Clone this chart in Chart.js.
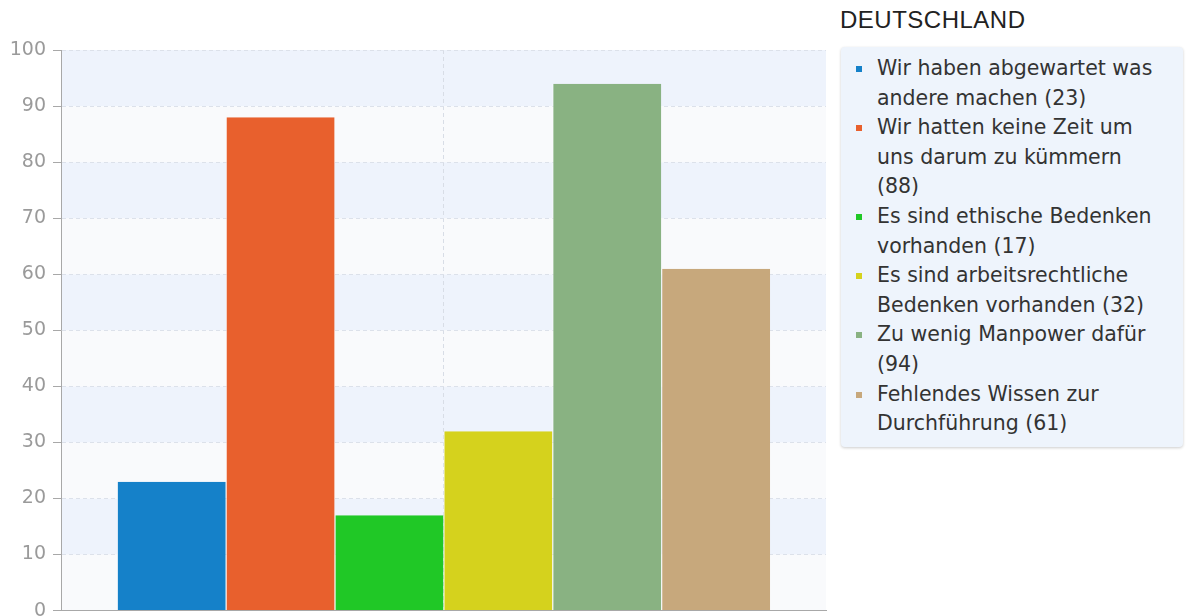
<!DOCTYPE html>
<html>
<head>
<meta charset="utf-8">
<script src="https://cdn.jsdelivr.net/npm/chart.js@4"></script>
<style>
  body { margin: 0; background: #fff; width: 1186px; height: 616px; overflow: hidden; position: relative; }
  #chartBox { position: absolute; left: 0; top: 0; width: 832px; height: 629px; }
  #title { position: absolute; left: 840px; top: 6px; font: 24px "Liberation Sans", Arial, sans-serif; color: #222; letter-spacing: 0.5px; }
  #legend { position: absolute; left: 841px; top: 47px; width: 342px; height: 400px; box-sizing: border-box;
    background: #eef4fc; border-radius: 4px; box-shadow: 0 1px 3px rgba(0,0,0,0.2);
    padding: 7px 14px 0 36px; font: 20.5px "DejaVu Sans", sans-serif; color: #333; line-height: 29.6px; }
  #legend ul { list-style: none; margin: 0; padding: 0; }
  #legend li { position: relative; }
  #legend li span { position: absolute; left: -21px; top: 12px; width: 6px; height: 6px; }
</style>
</head>
<body>
<div id="chartBox"><canvas id="chart"></canvas></div>
<div id="title">DEUTSCHLAND</div>
<div id="legend"><ul id="legendList"></ul></div>
<script>
'use strict';

// ------------------------------- Data ------------------------------//
const seriesNames = [
  'Wir haben abgewartet was andere machen',
  'Wir hatten keine Zeit um uns darum zu kümmern',
  'Es sind ethische Bedenken vorhanden',
  'Es sind arbeitsrechtliche Bedenken vorhanden',
  'Zu wenig Manpower dafür',
  'Fehlendes Wissen zur Durchführung'
];
const seriesValues = [23, 88, 17, 32, 94, 61];
const seriesColors = ['#1581c9', '#e8602d', '#20c826', '#d5d21d', '#89b282', '#c7a87c'];
const yTicks = [0, 10, 20, 30, 40, 50, 60, 70, 80, 90, 100];

// ------------------------------- Legend ------------------------------//
const legendList = document.getElementById('legendList');
for (let i = 0; i < seriesNames.length; i++) {
  let li = document.createElement('li');
  let box = document.createElement('span');
  box.style.background = seriesColors[i];
  li.appendChild(box);
  li.appendChild(document.createTextNode(`${seriesNames[i]} (${seriesValues[i]})`));
  legendList.appendChild(li);
}

// ------------------------------- Band plugin ------------------------------//
const bandPlugin = {
  id: 'bands',
  beforeDraw(chart) {
    const {ctx, chartArea, scales} = chart;
    const y = scales.y;
    ctx.save();
    for (let i = 0; i < yTicks.length - 1; i++) {
      const top = y.getPixelForValue(yTicks[i + 1]);
      const bottom = y.getPixelForValue(yTicks[i]);
      ctx.fillStyle = (i % 2 === 1) ? '#eef3fc' : '#f9fafc';
      ctx.fillRect(chartArea.left, top, chartArea.right - chartArea.left, bottom - top);
    }
    ctx.restore();
  }
};

// ------------------------------- Chart ------------------------------//
const datasets = seriesNames.map((name, i) => ({
  label: name,
  data: [seriesValues[i]],
  backgroundColor: seriesColors[i],
  borderColor: 'rgba(255,255,255,0.75)',
  borderWidth: {left: 1, right: 0, top: 0, bottom: 0},
  borderSkipped: false
}));

new Chart(document.getElementById('chart'), {
  type: 'bar',
  data: { labels: [''], datasets: datasets },
  plugins: [bandPlugin],
  options: {
    responsive: true,
    maintainAspectRatio: false,
    animation: false,
    layout: { padding: { top: 50, right: 6, bottom: 0, left: 0 } },
    plugins: { legend: { display: false }, tooltip: { enabled: false } },
    datasets: { bar: { categoryPercentage: 0.854, barPercentage: 1.0 } },
    scales: {
      x: {
        grid: { offset: false, color: '#d8dde6', drawTicks: false },
        border: { display: true, color: '#a8a8a8', dash: [4, 3] },
        ticks: { display: false }
      },
      y: {
        min: 0,
        max: 100,
        afterBuildTicks(scale) { scale.ticks = yTicks.map(v => ({ value: v })); },
        afterFit(scale) { scale.width = 61; },
        grid: { color: '#dce1ea', tickColor: '#a8a8a8', tickLength: 8 },
        border: { color: '#a8a8a8', dash: [4, 3] },
        ticks: { color: '#9a9a9a', font: { family: 'DejaVu Sans', size: 19 }, padding: 7 }
      }
    }
  }
});
</script>
</body>
</html>
